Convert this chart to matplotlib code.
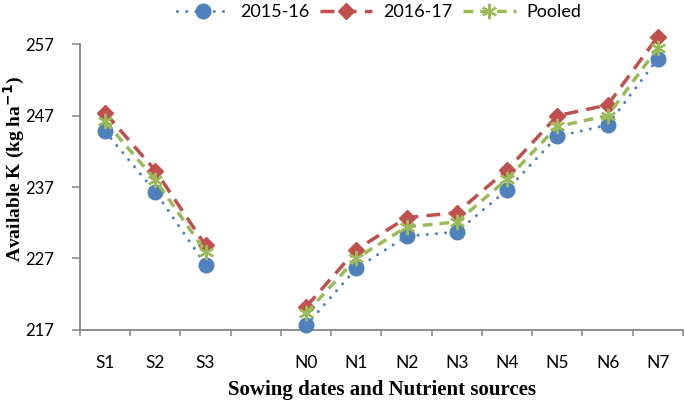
import numpy as np
import matplotlib
matplotlib.use("Agg")
import matplotlib.pyplot as plt
from matplotlib.ticker import FixedLocator

categories = ["S1", "S2", "S3", "", "N0", "N1", "N2", "N3", "N4", "N5", "N6", "N7"]
y2015 = [244.8, 236.3, 226.1, np.nan, 217.6, 225.6, 230.1, 230.7, 236.6, 244.1, 245.7, 255.0]
y2016 = [247.4, 239.3, 228.8, np.nan, 220.2, 228.2, 232.7, 233.4, 239.4, 247.0, 248.5, 258.1]
pooled = [246.2, 238.0, 227.9, np.nan, 219.3, 227.0, 231.4, 232.1, 238.1, 245.5, 247.0, 256.5]
yticks = [217, 227, 237, 247, 257]

blue = "#4F81BD"
red = "#C0504D"
green = "#9BBB59"
axis_col = "#868686"

sans = ["Lato", "DejaVu Sans"]
serif = ["Liberation Serif", "DejaVu Serif"]

fig = plt.figure(figsize=(6.85, 4.08), dpi=100)
ax = fig.add_axes([80/685, 1-329.6/408, 603/685, (329.6-44.4)/408])

x = np.arange(len(categories))

ax.plot(x, y2015, color=blue, lw=2.2, linestyle=(0, (0.01, 3.0)),
        dash_capstyle="round", marker="o", markersize=10.5,
        markeredgecolor=blue, clip_on=False, label="2015-16", zorder=3)
ax.plot(x, y2016, color=red, lw=2.5, linestyle=(0, (4.0, 2.4)),
        marker="D", markersize=8, markeredgecolor=red,
        clip_on=False, label="2016-17", zorder=4)
ax.plot(x, pooled, color=green, lw=2.5, linestyle=(0, (2.8, 2.0)),
        marker=(6, 2, 0), markersize=11, markeredgewidth=1.6,
        markeredgecolor=green, clip_on=False, label="Pooled", zorder=5)

ax.set_xlim(-0.5, len(categories) - 0.5)
ax.set_ylim(217, 257)
ax.set_yticks(yticks)
ax.set_yticklabels([str(v) for v in yticks], fontfamily=sans, fontsize=12)

ax.set_xticks(x)
ax.set_xticklabels(categories, fontfamily=sans, fontsize=12.5)
ax.xaxis.set_minor_locator(FixedLocator(np.arange(len(categories) + 1) - 0.5))
ax.tick_params(axis="x", which="major", length=0, pad=18)
ax.tick_params(axis="x", which="minor", length=4.5, width=1.1, color=axis_col, direction="out")
ax.tick_params(axis="y", which="major", length=5.5, width=1.1, color=axis_col, direction="out", pad=13)

for side in ["top", "right"]:
    ax.spines[side].set_visible(False)
for side in ["left", "bottom"]:
    ax.spines[side].set_color(axis_col)
    ax.spines[side].set_linewidth(1.3)

fig.text(14/685, 0.585, "Available K (kg ha$^{\\mathbf{-1}}$)", rotation=90,
         ha="center", va="center", fontfamily=serif, fontweight="bold", fontsize=14)
fig.text((80 + 683) / 2 / 685, 1 - 390 / 408, "Sowing dates and Nutrient sources",
         ha="center", va="center", fontfamily=serif, fontweight="bold", fontsize=15)

leg = fig.legend(loc="center", bbox_to_anchor=(379/685, 1-12/408), ncol=3,
                 frameon=False, handlelength=2.9, handletextpad=0.6,
                 columnspacing=0.6, prop={"family": sans, "size": 13}, numpoints=1)

fig.savefig("out.png", dpi=100)
